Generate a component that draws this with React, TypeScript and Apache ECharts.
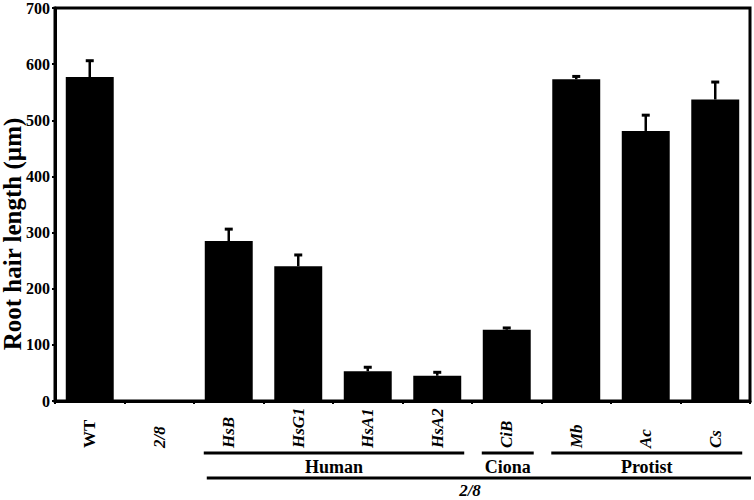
import React, { useEffect, useRef } from "react";
import * as echarts from "echarts";

const categories = ["WT", "2/8", "HsB", "HsG1", "HsA1", "HsA2", "CiB", "Mb", "Ac", "Cs"];
const italicLabel = [false, true, true, true, true, true, true, true, true, true];
const means = [577, 0, 285, 240, 53, 45, 127, 573, 481, 537];
const errors = [30, 0, 22, 21, 8, 7, 4, 6, 29, 32];
const yAxisTitle = "Root hair length (µm)";
const groups = [
  { label: "Human", from: 2, to: 5 },
  { label: "Ciona", from: 6, to: 6 },
  { label: "Protist", from: 7, to: 9 },
];
const outerGroup = { label: "2/8", from: 2, to: 9 };

const FONT = "'Liberation Serif', 'Times New Roman', serif";

export default function App() {
  const ref = useRef<HTMLDivElement>(null);

  useEffect(() => {
    document.body.style.margin = "0";
    const chart = echarts.init(ref.current!, null, { renderer: "svg" });
    const option: any = {
      animation: false,
      grid: {
        left: 55,
        right: 4,
        top: 5,
        bottom: 99,
        show: true,
        borderColor: "#000",
        borderWidth: 3,
        containLabel: false,
      },
      xAxis: {
        type: "category",
        data: categories,
        axisLine: { lineStyle: { color: "#000", width: 3 } },
        axisTick: { show: true, length: 3, lineStyle: { color: "#000", width: 2 } },
        axisLabel: { show: false },
      },
      yAxis: {
        type: "value",
        min: 0,
        max: 700,
        interval: 100,
        splitLine: { show: false },
        axisLine: { show: true, lineStyle: { color: "#000", width: 3 } },
        axisTick: { show: true, length: 3, lineStyle: { color: "#000", width: 2 } },
        axisLabel: {
          margin: 5,
          fontFamily: FONT,
          fontSize: 16,
          fontWeight: "bold",
          color: "#000",
        },
      },
      series: [
        {
          type: "bar",
          data: means,
          barWidth: "69%",
          itemStyle: { color: "#000" },
        },
        {
          type: "custom",
          data: means.map((m, i) => [i, m, errors[i]]),
          encode: { x: 0, y: 1 },
          z: 3,
          renderItem: (params: any, api: any) => {
            const i = api.value(0);
            const m = api.value(1);
            const e = api.value(2);
            if (!e) return { type: "group", children: [] };
            const p0 = api.coord([i, m]);
            const p1 = api.coord([i, m + e]);
            return {
              type: "group",
              children: [
                {
                  type: "line",
                  shape: { x1: p0[0], y1: p0[1], x2: p1[0], y2: p1[1] },
                  style: { stroke: "#000", lineWidth: 2.5 },
                },
                {
                  type: "rect",
                  shape: { x: p1[0] - 4, y: p1[1] - 1, width: 8, height: 3 },
                  style: { fill: "#000" },
                },
              ],
            };
          },
        },
      ],
    };
    chart.setOption(option);

    const cx = (i: number) => chart.convertToPixel({ xAxisIndex: 0 }, i) as number;
    const band = cx(1) - cx(0);
    const half = band * 0.69 / 2;
    const graphics: any[] = [];

    categories.forEach((c, i) => {
      graphics.push({
        type: "text",
        x: cx(i),
        y: 448,
        rotation: Math.PI / 2,
        style: {
          text: c,
          fontFamily: FONT,
          fontSize: 17,
          fontWeight: "bold",
          fontStyle: italicLabel[i] ? "italic" : "normal",
          fill: "#000",
          align: "left",
          verticalAlign: "middle",
        },
      });
    });

    const lineY = 453;
    const labelY = 467;
    groups.forEach((g) => {
      const x1 = cx(g.from) - half - 1;
      const x2 = cx(g.to) + half + 3;
      graphics.push({
        type: "line",
        shape: { x1, y1: lineY, x2, y2: lineY },
        style: { stroke: "#000", lineWidth: 3 },
      });
      graphics.push({
        type: "text",
        x: (x1 + x2) / 2,
        y: labelY,
        style: {
          text: g.label,
          fontFamily: FONT,
          fontSize: 18,
          fontWeight: "bold",
          fill: "#000",
          align: "center",
          verticalAlign: "middle",
        },
      });
    });
    {
      const x1 = cx(outerGroup.from) - half + 2;
      const x2 = 751;
      graphics.push({
        type: "line",
        shape: { x1, y1: 478, x2, y2: 478 },
        style: { stroke: "#000", lineWidth: 3 },
      });
      graphics.push({
        type: "text",
        x: 470,
        y: 490,
        style: {
          text: outerGroup.label,
          fontFamily: FONT,
          fontSize: 17,
          fontWeight: "bold",
          fontStyle: "italic",
          fill: "#000",
          align: "center",
          verticalAlign: "middle",
        },
      });
    }
    graphics.push({
      type: "text",
      x: 12,
      y: 234,
      rotation: Math.PI / 2,
      style: {
        text: yAxisTitle,
        fontFamily: FONT,
        fontSize: 25,
        fontWeight: "bold",
        fill: "#000",
        align: "center",
        verticalAlign: "middle",
      },
    });
    chart.setOption({ graphic: graphics });

    return () => chart.dispose();
  }, []);

  return (
    <div
      ref={ref}
      style={{ position: "absolute", left: 0, top: 0, width: 754, height: 500 }}
    />
  );
}
